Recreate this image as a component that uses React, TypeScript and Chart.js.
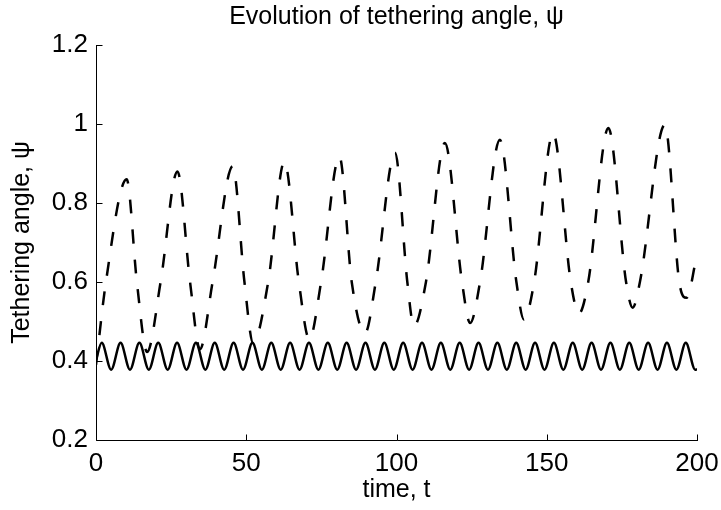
import React, { useEffect, useRef } from "react";
import { Chart, registerables } from "chart.js";

Chart.register(...registerables);

const TITLE = "Evolution of tethering angle, ψ";
const X_LABEL = "time, t";
const Y_LABEL = "Tethering angle, ψ";
const X_TICKS = [0, 50, 100, 150, 200];
const Y_TICKS = [0.2, 0.4, 0.6, 0.8, 1.0, 1.2];
const Y_TICK_LABELS = ["0.2", "0.4", "0.6", "0.8", "1", "1.2"];

// dashed curve: troughs, 0.6-crossings and peaks
const DASHED_T = [
  0, 3.3, 10.2, 13.6, 17.0, 21.5, 27.1, 31.3, 34.6, 38.8, 45.5, 49.4, 52.3,
  57.3, 62.7, 67.5, 71.0, 74.9, 81.0, 85.1, 89.5, 93.1, 99.5, 103.6, 105.8,
  109.8, 116.1, 121.8, 124.5, 127.8, 134.4, 139.9, 142.4, 145.8, 152.1, 158.0,
  160.7, 163.8, 170.5, 176.4, 178.6, 181.0, 189.3, 194.1, 196.5, 200,
];
const DASHED_V = [
  0.39, 0.6, 0.86, 0.6, 0.423, 0.6, 0.88, 0.6, 0.43, 0.6, 0.893, 0.6, 0.445,
  0.6, 0.905, 0.6, 0.455, 0.6, 0.918, 0.6, 0.47, 0.6, 0.927, 0.6, 0.488,
  0.6, 0.952, 0.6, 0.496, 0.6, 0.96, 0.6, 0.505, 0.6, 0.977, 0.6,
  0.52, 0.6, 0.99, 0.6, 0.535, 0.6, 0.998, 0.6, 0.56, 0.67,
];

// solid curve: peaks and troughs
const SOLID_T = [
  0, 1.9, 5.04, 8.17, 11.31, 14.44, 17.58, 20.71, 23.85, 26.98, 30.12, 33.25,
  36.39, 39.52, 42.66, 45.79, 48.93, 52.06, 55.2, 58.33, 61.47, 64.6, 67.74,
  70.87, 74.01, 77.14, 80.28, 83.41, 86.55, 89.68, 92.82, 95.95, 99.09, 102.22,
  105.36, 108.49, 111.63, 114.76, 117.9, 121.03, 124.17, 127.3, 130.44, 133.57,
  136.71, 139.84, 142.98, 146.11, 149.25, 152.38, 155.52, 158.65, 161.79,
  164.92, 168.06, 171.19, 174.33, 177.46, 180.6, 183.73, 186.87, 190.0, 193.14,
  196.27, 199.41, 200,
];
const SOLID_V = [
  0.403, 0.446, 0.378, 0.446, 0.378, 0.446, 0.378, 0.446, 0.378, 0.446, 0.378,
  0.446, 0.378, 0.446, 0.378, 0.446, 0.378, 0.446, 0.378, 0.446, 0.378, 0.446,
  0.378, 0.446, 0.378, 0.446, 0.378, 0.446, 0.378, 0.446, 0.378, 0.446, 0.378,
  0.446, 0.378, 0.446, 0.378, 0.446, 0.378, 0.446, 0.378, 0.446, 0.378, 0.446,
  0.378, 0.446, 0.378, 0.446, 0.378, 0.446, 0.378, 0.446, 0.378, 0.446, 0.378,
  0.446, 0.378, 0.446, 0.378, 0.446, 0.378, 0.446, 0.378, 0.446, 0.378, 0.379,
];

const FONT = "'Liberation Sans', Arial, Helvetica, sans-serif";

export default function App() {
  const ref = useRef<HTMLCanvasElement>(null);

  useEffect(() => {
    const canvas = ref.current;
    if (!canvas) return;

    const axesPlugin = {
      id: "matlabAxes",
      afterDraw(chart: any) {
        const { ctx, chartArea: a, scales } = chart;
        const xs = scales.x;
        const ys = scales.y;
        ctx.save();
        ctx.strokeStyle = "#000";
        ctx.lineWidth = 1;
        ctx.beginPath();
        const L = Math.round(a.left) + 0.5;
        const B = Math.round(a.bottom) + 0.5;
        ctx.moveTo(L, Math.round(a.top));
        ctx.lineTo(L, B);
        ctx.lineTo(Math.round(a.right) + 1, B);
        for (const v of Y_TICKS) {
          const y = Math.round(ys.getPixelForValue(v)) + 0.5;
          ctx.moveTo(L, y);
          ctx.lineTo(L + 6, y);
        }
        for (const v of X_TICKS) {
          const x = Math.round(xs.getPixelForValue(v)) + 0.5;
          ctx.moveTo(x, B);
          ctx.lineTo(x, B - 6);
        }
        ctx.stroke();
        ctx.fillStyle = "#000";
        ctx.font = `25px ${FONT}`;
        ctx.textAlign = "center";
        ctx.textBaseline = "middle";
        ctx.fillText(TITLE, (a.left + a.right) / 2, 17);
        ctx.restore();
      },
    };

    const chart = new Chart(canvas, {
      type: "line",
      data: {
        datasets: [
          {
            label: "solid",
            data: SOLID_T.map((t, i) => ({ x: t, y: SOLID_V[i] })),
            borderColor: "#000",
            borderWidth: 2.5,
            pointRadius: 0,
            fill: false,
            cubicInterpolationMode: "monotone",
          },
          {
            label: "dashed",
            data: DASHED_T.map((t, i) => ({ x: t, y: DASHED_V[i] })),
            borderColor: "#000",
            borderWidth: 2.5,
            borderDash: [14, 16],
            pointRadius: 0,
            fill: false,
            cubicInterpolationMode: "monotone",
          },
        ],
      },
      options: {
        animation: false,
        responsive: false,
        devicePixelRatio: 1,
        layout: { padding: { top: 45, left: 0, right: 0, bottom: 0 } },
        plugins: {
          legend: { display: false },
          tooltip: { enabled: false },
          title: { display: false },
        },
        scales: {
          x: {
            type: "linear",
            min: 0,
            max: 200,
            afterBuildTicks: (s: any) => {
              s.ticks = X_TICKS.map((v) => ({ value: v }));
            },
            afterFit: (s: any) => {
              s.height = 70;
              s.paddingRight = 24;
            },
            grid: { display: false, drawTicks: false },
            border: { display: false },
            ticks: {
              color: "#000",
              font: { family: FONT, size: 26 },
              padding: 8,
              maxRotation: 0,
              autoSkip: false,
            },
            title: {
              display: true,
              text: X_LABEL,
              color: "#000",
              font: { family: FONT, size: 25 },
              padding: { top: 0, bottom: 5 },
            },
          },
          y: {
            type: "linear",
            min: 0.2,
            max: 1.2,
            afterBuildTicks: (s: any) => {
              s.ticks = Y_TICKS.map((v) => ({ value: v }));
            },
            afterFit: (s: any) => {
              s.width = 96;
            },
            grid: { display: false, drawTicks: false },
            border: { display: false },
            ticks: {
              color: "#000",
              font: { family: FONT, size: 26 },
              padding: 8,
              autoSkip: false,
              callback: (v: any) => {
                const i = Y_TICKS.findIndex((t) => Math.abs(t - Number(v)) < 1e-6);
                return i >= 0 ? Y_TICK_LABELS[i] : "";
              },
            },
            title: {
              display: true,
              text: Y_LABEL,
              color: "#000",
              font: { family: FONT, size: 25 },
              padding: { top: 7, bottom: 0 },
            },
          },
        },
      },
      plugins: [axesPlugin],
    });

    return () => chart.destroy();
  }, []);

  return (
    <div
      style={{
        position: "fixed",
        left: 0,
        top: 0,
        width: 721,
        height: 510,
        background: "#fff",
      }}
    >
      <canvas ref={ref} width={721} height={510} style={{ width: 721, height: 510 }} />
    </div>
  );
}
